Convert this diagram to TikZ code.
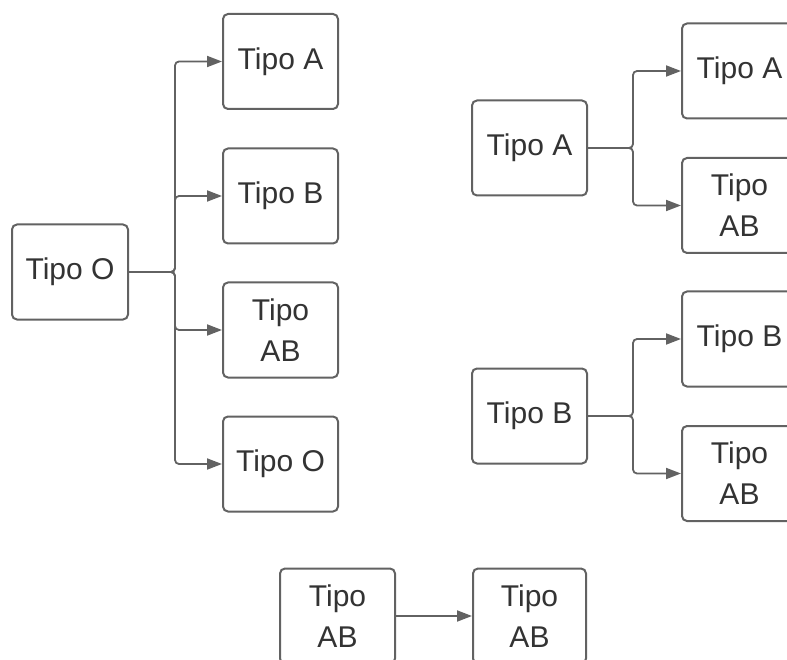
\documentclass[tikz,border=0pt]{standalone}
\usepackage{fontspec}
\setmainfont{Liberation Sans}
\usetikzlibrary{arrows.meta}
\definecolor{edge}{HTML}{626262}
\definecolor{txt}{HTML}{333333}
\tikzset{
  box/.style={draw=edge, line width=2pt, rounded corners=5pt, minimum width=115pt, minimum height=95pt, inner sep=0pt, align=center, text=txt, font=\fontsize{30}{41}\selectfont},
  conn/.style={draw=edge, line width=1.8pt, rounded corners=4pt, -{Triangle[length=15pt,width=11pt]}},
  plain/.style={draw=edge, line width=1.8pt}
}
\begin{document}
\begin{tikzpicture}[x=1pt,y=-1pt]
\useasboundingbox (0,0) rectangle (787,660);
\clip (0,0) rectangle (787,660);
\fill[white] (0,0) rectangle (787,660);
% left group
\node[box, minimum width=116pt] (o) at (70,272) {Tipo O};
\node[box] (oa) at (280.5,61.5) {Tipo A};
\node[box] (ob) at (280.5,196) {Tipo B};
\node[box] (oab) at (280.5,330) {Tipo\\AB};
\node[box] (oo) at (280.5,464) {Tipo O};
\coordinate (to) at (175,272);
\draw[conn] (o.east) -- (to) |- (oa.west);
\draw[conn] (o.east) -- (to) |- (ob.west);
\draw[conn] (o.east) -- (to) |- (oab.west);
\draw[conn] (o.east) -- (to) |- (oo.west);
% right top group
\node[box] (a) at (529.5,148) {Tipo A};
\node[box] (aa) at (739.5,71) {Tipo A};
\node[box] (aab) at (739.5,205.5) {Tipo\\AB};
\coordinate (ta) at (633,148);
\draw[conn] (a.east) -- (ta) |- (aa.west);
\draw[conn] (a.east) -- (ta) |- (aab.west);
% right middle group
\node[box] (b) at (529.5,416) {Tipo B};
\node[box] (bb) at (739.5,339) {Tipo B};
\node[box] (bab) at (739.5,473.5) {Tipo\\AB};
\coordinate (tb) at (633,416);
\draw[conn] (b.east) -- (tb) |- (bb.west);
\draw[conn] (b.east) -- (tb) |- (bab.west);
% bottom
\node[box] (ab) at (337.5,616) {Tipo\\AB};
\node[box, minimum width=113pt] (abab) at (529.5,616) {Tipo\\AB};
\draw[conn] (ab.east) -- (abab.west);
\end{tikzpicture}
\end{document}
